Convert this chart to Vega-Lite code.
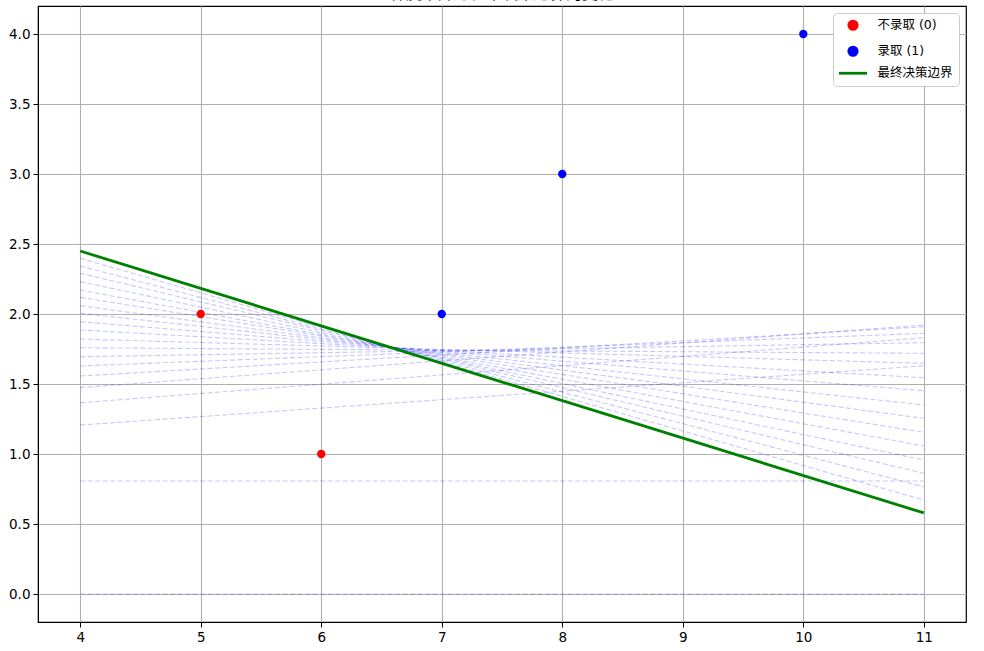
{
  "$schema": "https://vega.github.io/schema/vega-lite/v6.json",
  "autosize": "none",
  "width": 928,
  "height": 616,
  "padding": {"left": 38, "top": 6, "right": 18, "bottom": 29},
  "background": "white",
  "title": {"text": "梯度下降过程中决策边界的变化", "font": "Noto Sans CJK SC", "fontSize": 16, "fontWeight": "normal", "offset": 4, "color": "black"},
  "config": {
    "view": {"stroke": "black", "strokeWidth": 1.2},
    "font": "DejaVu Sans",
    "axis": {"labelFont": "DejaVu Sans", "labelFontSize": 13.5, "labelColor": "black", "tickColor": "black", "tickSize": 5, "domainColor": "black", "gridColor": "#b0b0b0", "gridWidth": 1.1, "gridOpacity": 1, "title": null, "labelPadding": 3},
    "legend": {"labelFont": "DejaVu Sans, Noto Sans CJK SC", "labelFontSize": 12.5, "labelColor": "black", "fillColor": "white", "strokeColor": "#cccccc", "cornerRadius": 4, "padding": 6, "rowPadding": 5, "symbolSize": 70, "symbolStrokeWidth": 2.8, "labelOffset": 26, "symbolOpacity": 1}
  },
  "datasets": {
    "pts": [
      {"x": 5, "y": 2, "label": "不录取 (0)"},
      {"x": 6, "y": 1, "label": "不录取 (0)"},
      {"x": 7, "y": 2, "label": "录取 (1)"},
      {"x": 8, "y": 3, "label": "录取 (1)"},
      {"x": 10, "y": 4, "label": "录取 (1)"}
    ],
    "bounds": [
      {"iter": 0, "x": 4, "y": 0}, {"iter": 0, "x": 11, "y": 0},
      {"iter": 1, "x": 4, "y": 0.807}, {"iter": 1, "x": 11, "y": 0.807},
      {"iter": 2, "x": 4, "y": 1.207}, {"iter": 2, "x": 11, "y": 1.63},
      {"iter": 3, "x": 4, "y": 1.366}, {"iter": 3, "x": 11, "y": 1.83},
      {"iter": 4, "x": 4, "y": 1.474}, {"iter": 4, "x": 11, "y": 1.921},
      {"iter": 5, "x": 4, "y": 1.557}, {"iter": 5, "x": 11, "y": 1.909},
      {"iter": 6, "x": 4, "y": 1.629}, {"iter": 6, "x": 11, "y": 1.862},
      {"iter": 7, "x": 4, "y": 1.695}, {"iter": 7, "x": 11, "y": 1.795},
      {"iter": 8, "x": 4, "y": 1.759}, {"iter": 8, "x": 11, "y": 1.719},
      {"iter": 9, "x": 4, "y": 1.821}, {"iter": 9, "x": 11, "y": 1.648},
      {"iter": 10, "x": 4, "y": 1.886}, {"iter": 10, "x": 11, "y": 1.545},
      {"iter": 11, "x": 4, "y": 1.945}, {"iter": 11, "x": 11, "y": 1.452},
      {"iter": 12, "x": 4, "y": 2.005}, {"iter": 12, "x": 11, "y": 1.35},
      {"iter": 13, "x": 4, "y": 2.059}, {"iter": 13, "x": 11, "y": 1.255},
      {"iter": 14, "x": 4, "y": 2.119}, {"iter": 14, "x": 11, "y": 1.155},
      {"iter": 15, "x": 4, "y": 2.171}, {"iter": 15, "x": 11, "y": 1.057},
      {"iter": 16, "x": 4, "y": 2.231}, {"iter": 16, "x": 11, "y": 0.957},
      {"iter": 17, "x": 4, "y": 2.291}, {"iter": 17, "x": 11, "y": 0.862},
      {"iter": 18, "x": 4, "y": 2.343}, {"iter": 18, "x": 11, "y": 0.766},
      {"iter": 19, "x": 4, "y": 2.398}, {"iter": 19, "x": 11, "y": 0.671}
    ],
    "final": [
      {"x": 4, "y": 2.45, "label": "最终决策边界"},
      {"x": 11, "y": 0.579, "label": "最终决策边界"}
    ]
  },
  "encoding": {
    "x": {"field": "x", "type": "quantitative", "scale": {"domain": [3.65, 11.35], "nice": false, "zero": false}, "axis": {"values": [4, 5, 6, 7, 8, 9, 10, 11], "format": "d"}},
    "y": {"field": "y", "type": "quantitative", "scale": {"domain": [-0.2, 4.2], "nice": false, "zero": false}, "axis": {"values": [0, 0.5, 1, 1.5, 2, 2.5, 3, 3.5, 4], "format": ".1f"}}
  },
  "layer": [
    {
      "data": {"name": "bounds"},
      "mark": {"type": "line", "color": "blue", "opacity": 0.22, "strokeWidth": 1.1, "strokeDash": [5, 2.5]},
      "encoding": {"detail": {"field": "iter", "type": "nominal"}}
    },
    {
      "data": {"name": "pts"},
      "mark": {"type": "point", "filled": true, "opacity": 1, "size": 70},
      "encoding": {
        "color": {"field": "label", "type": "nominal", "scale": {"domain": ["不录取 (0)", "录取 (1)", "最终决策边界"], "range": ["red", "blue", "green"]}, "legend": {"orient": "top-right", "offset": 7, "title": null, "symbolLimit": 0, "encode": {"symbols": {"update": {"xc": {"value": 14}, "size": {"signal": "datum.value === '最终决策边界' ? 784 : 70"}}}}}},
        "shape": {"field": "label", "type": "nominal", "scale": {"domain": ["不录取 (0)", "录取 (1)", "最终决策边界"], "range": ["circle", "circle", "stroke"]}, "legend": {"orient": "top-right", "offset": 7, "title": null, "symbolLimit": 0, "encode": {"symbols": {"update": {"xc": {"value": 14}, "size": {"signal": "datum.value === '最终决策边界' ? 784 : 70"}}}}}}
      }
    },
    {
      "data": {"name": "final"},
      "mark": {"type": "line", "strokeWidth": 2.8},
      "encoding": {"color": {"field": "label", "type": "nominal"}}
    }
  ]
}
